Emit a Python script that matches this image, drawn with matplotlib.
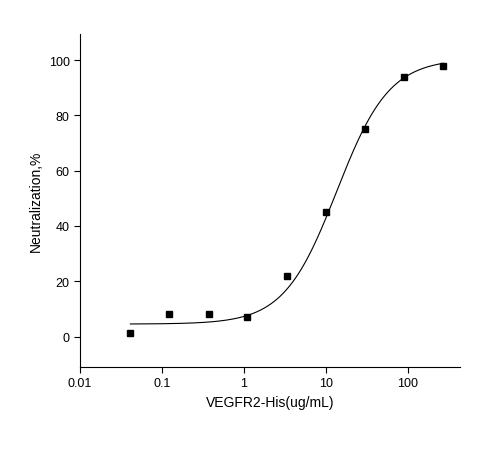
import numpy as np
import matplotlib
matplotlib.use("Agg")
import matplotlib.pyplot as plt

plt.rcParams['font.family'] = ['Liberation Sans', 'DejaVu Sans']

conc = [0.041, 0.123, 0.37, 1.1, 3.3, 10.0, 30.0, 90.0, 270.0]
neut = [1.2, 8.0, 8.0, 7.0, 22.0, 45.0, 75.0, 94.0, 98.0]
# 4PL fit parameters
bottom, top, ec50, hill = 4.5, 100.5, 13.5, 1.35

fig = plt.figure(figsize=(4.8, 4.52), dpi=100)
ax = fig.add_axes([0.167, 0.186, 0.791, 0.737])
xs = np.logspace(np.log10(conc[0]), np.log10(conc[-1]), 300)
ys = bottom + (top - bottom) / (1 + (ec50 / xs) ** hill)
ax.plot(xs, ys, color='black', lw=0.8)
ax.plot(conc, neut, 's', color='black', ms=4.5)
ax.set_xscale('log')
ax.set_xlim(0.01, 430)
ax.set_ylim(-11, 109.5)
ax.set_xticks([0.01, 0.1, 1, 10, 100])
ax.set_xticklabels(['0.01', '0.1', '1', '10', '100'])
ax.set_yticks([0, 20, 40, 60, 80, 100])
ax.minorticks_off()
for s in ['top', 'right']:
    ax.spines[s].set_visible(False)
ax.tick_params(labelsize=9, length=4, width=0.8)
ax.set_xlabel('VEGFR2-His(ug/mL)', fontsize=10)
ax.set_ylabel('Neutralization,%', fontsize=10)
fig.savefig('out.png', dpi=100)
